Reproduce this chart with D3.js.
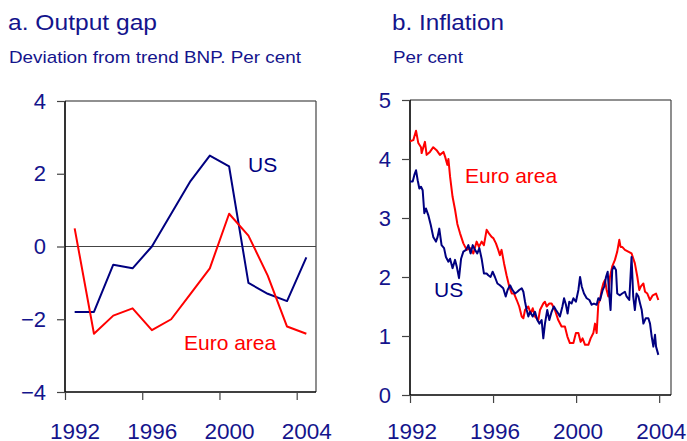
<!DOCTYPE html>
<html>
<head>
<meta charset="utf-8">
<script src="https://cdn.jsdelivr.net/npm/d3@7"></script>
<style>
  body { margin: 0; background: #fff; }
  text { font-family: "Liberation Sans", Arial, sans-serif; }
</style>
</head>
<body>
<div id="chart"></div>
<script>
// a. Output gap, annual (plotted mid-year)
const gapYears = [1992, 1993, 1994, 1995, 1996, 1997, 1998, 1999, 2000, 2001, 2002, 2003, 2004];
const gapUS = [-1.8, -1.8, -0.5, -0.6, 0.0, 0.9, 1.8, 2.5, 2.2, -1.0, -1.3, -1.5, -0.3];
const gapEuro = [0.5, -2.4, -1.9, -1.7, -2.3, -2.0, -1.3, -0.6, 0.9, 0.3, -0.8, -2.2, -2.4];
const gapYTicks = [-4, -2, 0, 2, 4];

// b. Inflation, monthly-ish readings (decimal year, per cent)
const inflEuroT = [1992.00, 1992.16, 1992.29, 1992.40, 1992.53, 1992.56, 1992.72, 1992.80, 1992.96, 1993.12,
    1993.28, 1993.44, 1993.61, 1993.69, 1993.80, 1993.85, 1993.93, 1994.05, 1994.17, 1994.28,
    1994.41, 1994.57, 1994.73, 1994.89, 1995.05, 1995.21, 1995.32, 1995.45, 1995.56, 1995.69,
    1995.80, 1995.93, 1996.01, 1996.14, 1996.25, 1996.33, 1996.41, 1996.53, 1996.65, 1996.78,
    1996.90, 1997.01, 1997.14, 1997.26, 1997.38, 1997.46, 1997.54, 1997.70, 1997.81, 1997.91,
    1998.02, 1998.18, 1998.26, 1998.42, 1998.50, 1998.58, 1998.71, 1998.82, 1998.98, 1999.14,
    1999.30, 1999.46, 1999.58, 1999.70, 1999.87, 1999.99, 2000.11, 2000.22, 2000.31, 2000.43,
    2000.59, 2000.70, 2000.83, 2000.91, 2000.99, 2001.07, 2001.15, 2001.23, 2001.31, 2001.39,
    2001.47, 2001.55, 2001.63, 2001.74, 2001.87, 2001.98, 2002.08, 2002.14, 2002.22, 2002.35,
    2002.51, 2002.67, 2002.83, 2002.95, 2003.04, 2003.12, 2003.24, 2003.32, 2003.43, 2003.56,
    2003.69, 2003.85, 2003.96];
const inflEuro = [4.30, 4.32, 4.48, 4.27, 4.20, 4.10, 4.29, 4.07, 4.12, 4.20,
    4.15, 4.07, 4.12, 4.04, 3.90, 4.00, 3.70, 3.36, 3.14, 2.90,
    2.74, 2.57, 2.46, 2.49, 2.40, 2.60, 2.51, 2.60, 2.54, 2.80,
    2.74, 2.68, 2.66, 2.57, 2.46, 2.37, 2.46, 2.23, 2.03, 1.84,
    1.72, 1.72, 1.61, 1.50, 1.33, 1.30, 1.44, 1.50, 1.38, 1.47,
    1.33, 1.27, 1.44, 1.55, 1.58, 1.50, 1.55, 1.55, 1.44, 1.27,
    1.16, 1.16, 0.99, 0.88, 0.88, 1.05, 1.05, 0.90, 0.96, 0.85,
    0.85, 0.96, 1.05, 1.21, 1.05, 1.55, 1.61, 1.78, 1.89, 1.95,
    1.78, 1.67, 2.00, 2.18, 2.29, 2.43, 2.63, 2.51, 2.51, 2.46,
    2.43, 2.40, 2.23, 2.00, 1.78, 1.84, 1.89, 1.75, 1.72, 1.61,
    1.69, 1.72, 1.61];
const inflUST = [1992.00, 1992.13, 1992.21, 1992.29, 1992.37, 1992.45, 1992.53, 1992.61, 1992.69, 1992.77,
    1992.88, 1993.00, 1993.12, 1993.25, 1993.33, 1993.41, 1993.52, 1993.64, 1993.73, 1993.85,
    1993.93, 1994.05, 1994.17, 1994.25, 1994.36, 1994.46, 1994.57, 1994.70, 1994.81, 1994.92,
    1995.02, 1995.13, 1995.24, 1995.34, 1995.45, 1995.56, 1995.69, 1995.77, 1995.88, 1995.98,
    1996.09, 1996.21, 1996.33, 1996.49, 1996.61, 1996.70, 1996.82, 1996.93, 1997.06, 1997.17,
    1997.26, 1997.38, 1997.46, 1997.54, 1997.62, 1997.70, 1997.78, 1997.91, 1998.02, 1998.13,
    1998.23, 1998.34, 1998.42, 1998.50, 1998.61, 1998.71, 1998.82, 1998.93, 1999.03, 1999.14,
    1999.22, 1999.34, 1999.42, 1999.51, 1999.59, 1999.67, 1999.78, 1999.87, 1999.99, 2000.11,
    2000.19, 2000.27, 2000.38, 2000.51, 2000.64, 2000.75, 2000.86, 2000.99, 2001.07, 2001.15,
    2001.28, 2001.36, 2001.44, 2001.52, 2001.60, 2001.66, 2001.74, 2001.82, 2001.92, 2001.98,
    2002.11, 2002.22, 2002.35, 2002.43, 2002.56, 2002.67, 2002.75, 2002.83, 2002.91, 2003.00,
    2003.08, 2003.16, 2003.24, 2003.35, 2003.48, 2003.56, 2003.64, 2003.72, 2003.80, 2003.85,
    2003.96];
const inflUS = [3.62, 3.62, 3.73, 3.81, 3.64, 3.50, 3.53, 3.47, 3.08, 3.16,
    3.05, 2.88, 2.68, 2.60, 2.68, 2.82, 2.54, 2.49, 2.34, 2.26,
    2.31, 2.15, 2.29, 2.18, 1.98, 2.31, 2.43, 2.46, 2.54, 2.40,
    2.54, 2.46, 2.40, 2.49, 2.31, 2.06, 2.06, 2.03, 2.00, 2.09,
    2.00, 1.89, 1.86, 1.81, 1.67, 1.78, 1.86, 1.78, 1.72, 1.75,
    1.78, 1.81, 1.75, 1.58, 1.44, 1.33, 1.41, 1.33, 1.41, 1.27,
    1.21, 1.27, 0.96, 1.21, 1.44, 1.27, 1.41, 1.50, 1.44, 1.38,
    1.33, 1.50, 1.64, 1.53, 1.38, 1.58, 1.55, 1.64, 1.58, 1.78,
    2.00, 1.84, 1.72, 1.64, 1.61, 1.53, 1.55, 1.53, 1.64, 1.61,
    1.78, 1.84, 2.00, 2.09, 1.67, 1.44, 2.12, 2.18, 2.12, 1.72,
    1.69, 1.72, 1.75, 1.67, 1.61, 2.34, 1.67, 1.44, 1.72, 1.67,
    1.55, 1.44, 1.21, 1.30, 1.30, 1.21, 0.99, 0.82, 1.02, 0.82,
    0.68];
const inflYTicks = [0, 1, 2, 3, 4, 5];
const xTicks = [1992, 1996, 2000, 2004];

const textColor = "#14148c";
const usColor = "#000080";
const euroColor = "#ff0000";

const svg = d3.select("#chart")
    .append("svg")
    .attr("width", 687)
    .attr("height", 441);

function drawPanel(opts) {
    const g = svg.append("g");
    const x = d3.scaleLinear().domain(opts.xDomain).range(opts.xRange);
    const y = d3.scaleLinear().domain(opts.yDomain).range(opts.yRange);

    // frame top / right
    g.append("line")
        .attr("x1", opts.xRange[0]).attr("x2", opts.xRange[1])
        .attr("y1", opts.yRange[1]).attr("y2", opts.yRange[1])
        .attr("stroke", "#222").attr("stroke-width", 1.2);
    g.append("line")
        .attr("x1", opts.xRange[1]).attr("x2", opts.xRange[1])
        .attr("y1", opts.yRange[0]).attr("y2", opts.yRange[1])
        .attr("stroke", "#444").attr("stroke-width", 1.2);

    if (opts.zeroLine) {
        g.append("line")
            .attr("x1", opts.xRange[0]).attr("x2", opts.xRange[1])
            .attr("y1", y(0)).attr("y2", y(0))
            .attr("stroke", "#444").attr("stroke-width", 1);
    }

    // x labels sit on a common baseline (~439) below both panels
    const xPad = 439 - opts.yRange[0] - 8 - 16;
    const xAxis = g.append("g")
        .attr("transform", `translate(0, ${opts.yRange[0]})`)
        .call(d3.axisBottom(x).tickValues(xTicks).tickFormat(d3.format("d")).tickSize(8).tickPadding(xPad));
    const yAxis = g.append("g")
        .attr("transform", `translate(${opts.xRange[0]}, 0)`)
        .call(d3.axisLeft(y).tickValues(opts.yTicks).tickFormat(d3.format("d")).tickSize(8).tickPadding(11));

    [xAxis, yAxis].forEach(a => {
        a.select(".domain").attr("stroke", "#000").attr("stroke-width", 1.6);
        a.selectAll(".tick line").attr("stroke", "#444").attr("stroke-width", 1.2);
        a.selectAll(".tick text")
            .attr("fill", textColor)
            .style("font-family", "'Liberation Sans', Arial, sans-serif");
    });
    yAxis.selectAll(".tick text").style("font-size", "22px");
    // year labels are nudged right of their ticks, as in the source
    xAxis.selectAll(".tick text").style("font-size", "22.5px").attr("dx", opts.labelShift);
    xAxis.select(".domain").attr("d", `M${opts.xRange[0]},0H${opts.xRange[1]}`);
    yAxis.select(".domain").attr("d", `M0,${opts.yRange[0]}V${opts.yRange[1]}`);

    const line = d3.line().x(d => x(d[0])).y(d => y(d[1]));
    opts.series.forEach(s => {
        g.append("path")
            .datum(s.t.map((t, i) => [t, s.v[i]]))
            .attr("fill", "none")
            .attr("stroke", s.color)
            .attr("stroke-width", 2)
            .attr("stroke-linejoin", "round")
            .attr("d", line);
        g.append("text")
            .text(s.label)
            .attr("x", s.lx)
            .attr("y", s.ly)
            .attr("fill", s.color)
            .style("font-size", "21px");
    });

    svg.append("text")
        .text(opts.title)
        .attr("x", opts.tx)
        .attr("y", 30)
        .attr("fill", textColor)
        .attr("textLength", opts.titleW)
        .attr("lengthAdjust", "spacingAndGlyphs")
        .style("font-size", "22px");
    svg.append("text")
        .text(opts.subtitle)
        .attr("x", opts.tx + 1)
        .attr("y", 63)
        .attr("fill", textColor)
        .attr("textLength", opts.subW)
        .attr("lengthAdjust", "spacingAndGlyphs")
        .style("font-size", "17px");
}

drawPanel({
    title: "a. Output gap",
    subtitle: "Deviation from trend BNP. Per cent",
    tx: 8, titleW: 149, subW: 292,
    xDomain: [1992, 2005], xRange: [65, 316],
    yDomain: [-4, 4], yRange: [392, 101],
    yTicks: gapYTicks,
    zeroLine: true,
    labelShift: 9.5,
    series: [
        { t: gapYears.map(d => d + 0.5), v: gapUS, color: usColor, label: "US", lx: 248, ly: 172 },
        { t: gapYears.map(d => d + 0.5), v: gapEuro, color: euroColor, label: "Euro area", lx: 184, ly: 350 }
    ]
});

drawPanel({
    title: "b. Inflation",
    subtitle: "Per cent",
    tx: 392, titleW: 112, subW: 70,
    xDomain: [1992, 2004.57], xRange: [410, 671],
    yDomain: [0, 5], yRange: [395, 100],
    yTicks: inflYTicks,
    zeroLine: false,
    labelShift: 1.5,
    series: [
        { t: inflEuroT, v: inflEuro, color: euroColor, label: "Euro area", lx: 465, ly: 183 },
        { t: inflUST, v: inflUS, color: usColor, label: "US", lx: 434, ly: 297 }
    ]
});
</script>
</body>
</html>
